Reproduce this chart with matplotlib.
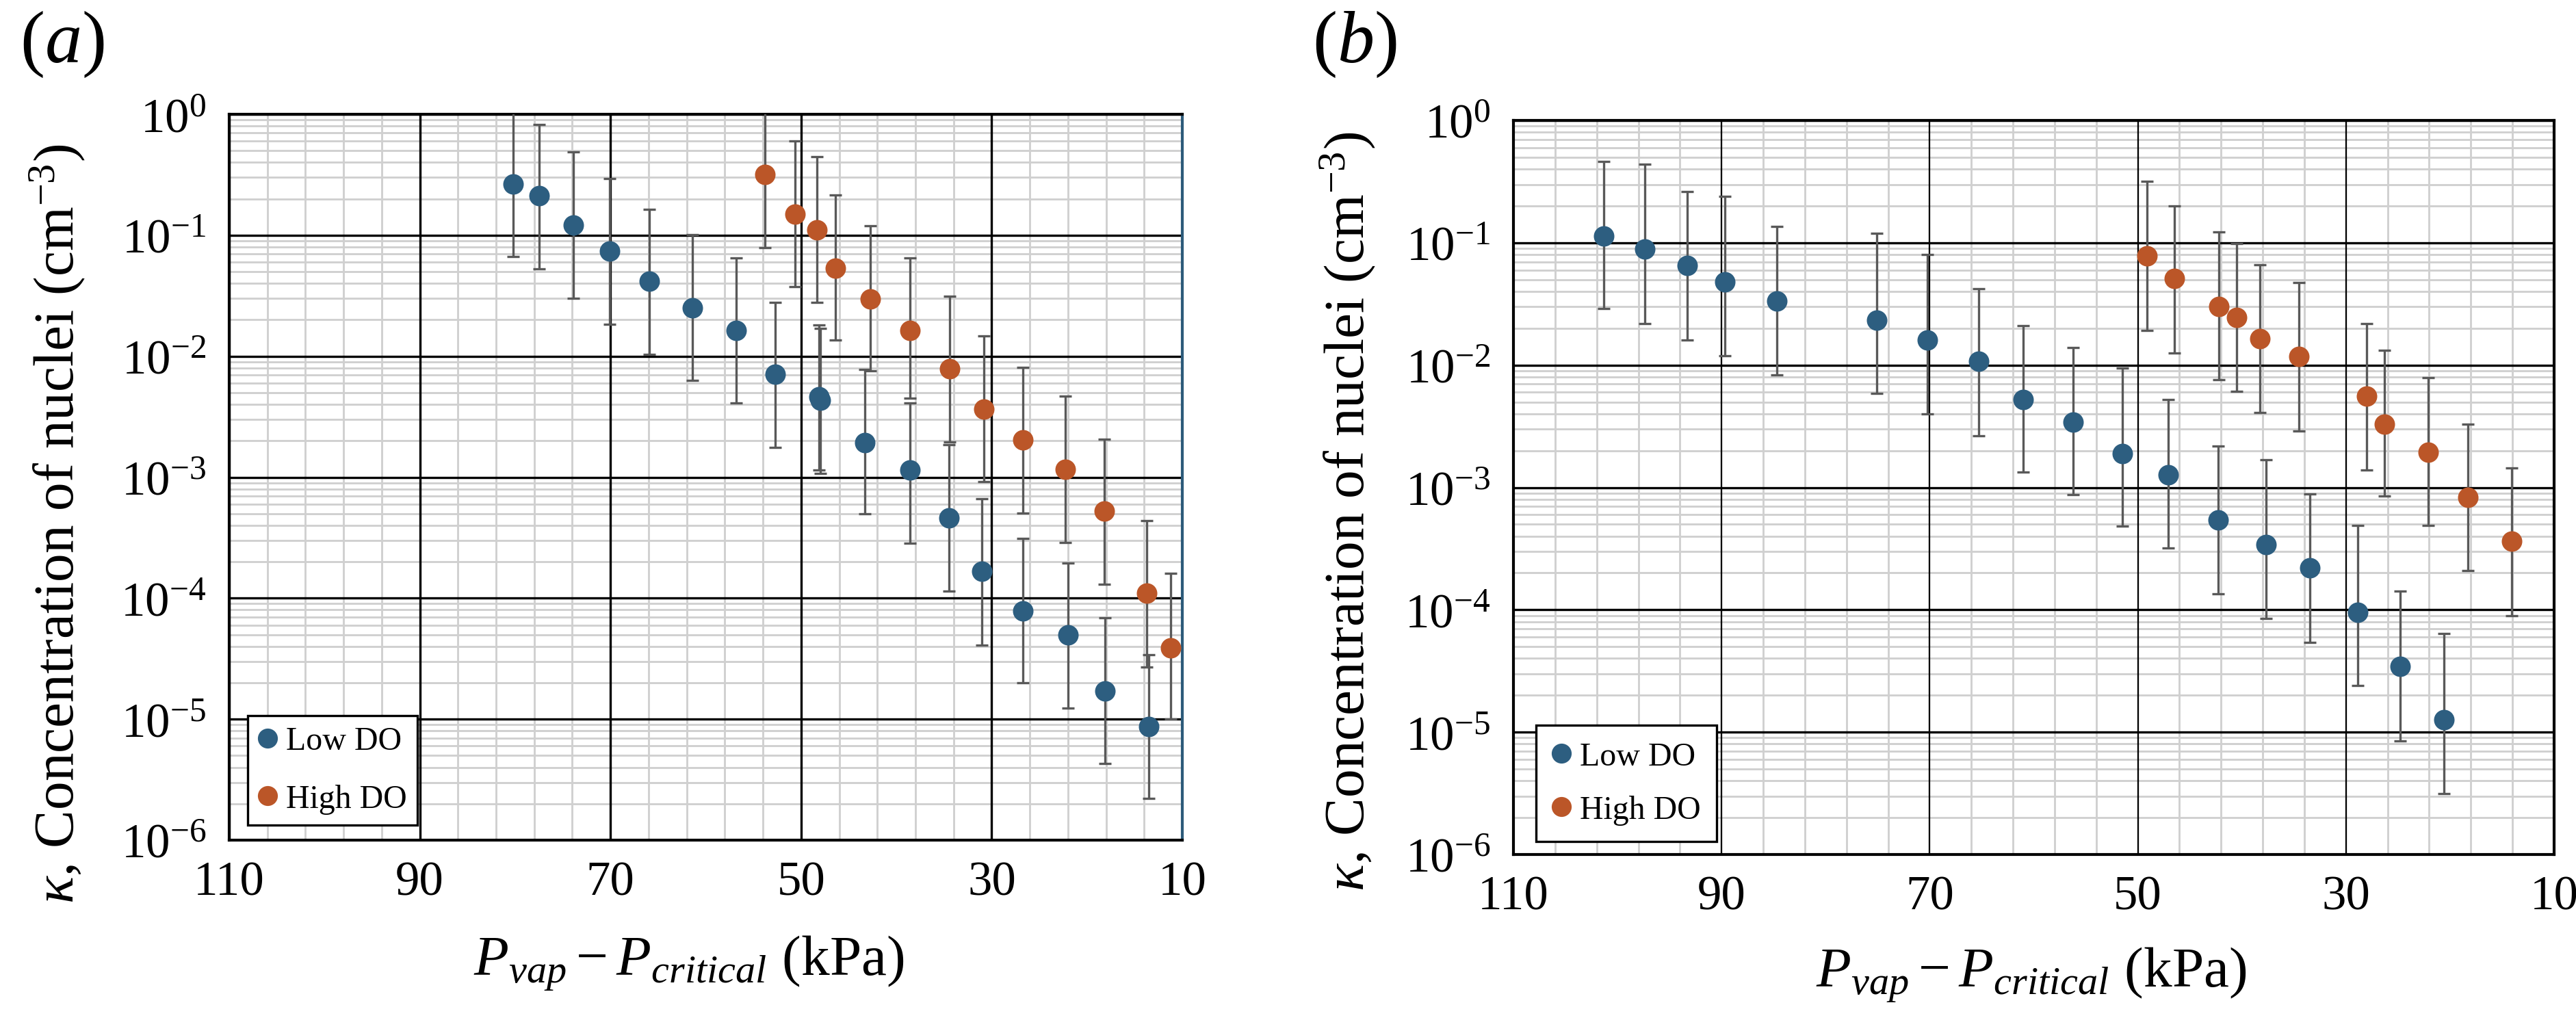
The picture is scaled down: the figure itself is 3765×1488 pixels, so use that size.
import matplotlib
matplotlib.use("Agg")
import matplotlib.pyplot as plt
from matplotlib.lines import Line2D
from matplotlib.ticker import LogLocator, LogFormatterMathtext, MultipleLocator, NullFormatter
import numpy as np

plt.rcParams['font.family'] = ['Liberation Serif', 'DejaVu Serif']
plt.rcParams['mathtext.fontset'] = 'custom'
plt.rcParams['mathtext.rm'] = 'Liberation Serif'
plt.rcParams['mathtext.it'] = 'Liberation Serif:italic'
plt.rcParams['mathtext.bf'] = 'Liberation Serif:bold'

# ---- data ----
# panel (a)
a_low_p = [80.2, 77.5, 73.9, 70.1, 65.9, 61.4, 56.8, 52.7, 48.1, 48.0,
           43.3, 38.6, 34.5, 31.0, 26.7, 22.0, 18.1, 13.5]
a_low_k = [0.266, 0.211, 0.122, 0.074, 0.0416, 0.0250, 0.0164, 0.00706, 0.0046, 0.0043,
           0.00192, 0.00115, 4.6e-4, 1.66e-4, 7.8e-5, 4.96e-5, 1.71e-5, 8.7e-6]
a_low_lo = [0.067, 0.053, 0.030, 0.0184, 0.0104, 0.0063, 0.0041, 0.00177, 0.00115, 0.00107,
            4.96e-4, 2.84e-4, 1.15e-4, 4.1e-5, 2.0e-5, 1.24e-5, 4.3e-6, 2.2e-6]
a_low_hi = [1.06, 0.82, 0.49, 0.295, 0.163, 0.101, 0.065, 0.0279, 0.0182, 0.017,
            0.0078, 0.0041, 0.00186, 6.6e-4, 3.1e-4, 1.96e-4, 6.9e-5, 3.4e-5]

a_high_p = [53.8, 50.6, 48.3, 46.4, 42.7, 38.6, 34.4, 30.8, 26.7, 22.3, 18.2, 13.7, 11.2]
a_high_k = [0.316, 0.150, 0.111, 0.0537, 0.0297, 0.0164, 0.0079, 0.00367, 0.00203,
            0.00116, 5.26e-4, 1.1e-4, 3.9e-5]
a_high_lo = [0.079, 0.0374, 0.0277, 0.0136, 0.0076, 0.0045, 0.00195, 9.2e-4, 5.06e-4,
             2.9e-4, 1.3e-4, 2.7e-5, 1.0e-5]
a_high_hi = [1.26, 0.60, 0.448, 0.216, 0.12, 0.065, 0.0314, 0.0147, 0.0081,
             0.00465, 0.00206, 4.4e-4, 1.6e-4]

# panel (b)
b_low_p = [101.3, 97.4, 93.3, 89.7, 84.7, 75.1, 70.2, 65.3, 61.0, 56.2,
           51.5, 47.1, 42.3, 37.7, 33.5, 28.9, 24.8, 20.6]
b_low_k = [0.114, 0.089, 0.065, 0.048, 0.0336, 0.0234, 0.0161, 0.0108, 0.00524, 0.00343,
           0.00188, 0.00127, 5.45e-4, 3.42e-4, 2.2e-4, 9.55e-5, 3.47e-5, 1.27e-5]
b_low_lo = [0.029, 0.0219, 0.016, 0.012, 0.0083, 0.0059, 0.0040, 0.00264, 0.00133, 8.7e-4,
            4.85e-4, 3.2e-4, 1.35e-4, 8.45e-5, 5.4e-5, 2.4e-5, 8.5e-6, 3.16e-6]
b_low_hi = [0.46, 0.44, 0.261, 0.24, 0.136, 0.12, 0.080, 0.042, 0.021, 0.0139,
            0.0095, 0.0052, 0.00217, 0.00168, 8.8e-4, 4.9e-4, 1.42e-4, 6.4e-5]

b_high_p = [49.1, 46.5, 42.2, 40.5, 38.3, 34.5, 28.0, 26.3, 22.1, 18.3, 14.1]
b_high_k = [0.078, 0.051, 0.030, 0.0245, 0.0164, 0.0117, 0.00557, 0.0033, 0.00194,
            8.3e-4, 3.65e-4]
b_high_lo = [0.0193, 0.0126, 0.0076, 0.0061, 0.0041, 0.0029, 0.00139, 8.5e-4, 4.9e-4,
             2.1e-4, 8.95e-5]
b_high_hi = [0.316, 0.20, 0.122, 0.098, 0.066, 0.047, 0.0219, 0.0133, 0.0079,
             0.0033, 0.00145]

p_ticks = [110, 90, 70, 50, 30, 10]
series_labels = ['Low DO', 'High DO']

LOW_C = '#2d5e80'
HIGH_C = '#bb5628'
ERR_C = '#595959'

W, H = 3765, 1489
fig = plt.figure(figsize=(W / 300, H / 300), dpi=300)


def px_axes(l, t, r, b):
    return fig.add_axes([l / W, 1 - b / H, (r - l) / W, (b - t) / H])


def draw_panel(ax, low, high, vgrid_lw):
    ax.set_yscale('log')
    ax.set_xlim(110, 10)
    ax.set_ylim(1e-6, 1)
    ax.set_xticks(p_ticks)
    ax.set_xticklabels([str(t) for t in p_ticks])
    ax.xaxis.set_minor_locator(MultipleLocator(4, offset=2))
    ax.yaxis.set_major_locator(LogLocator(base=10, numticks=10))
    ax.yaxis.set_major_formatter(LogFormatterMathtext())
    ax.yaxis.set_minor_locator(LogLocator(base=10, subs=np.arange(2, 10), numticks=20))
    ax.yaxis.set_minor_formatter(NullFormatter())

    ax.set_axisbelow(True)
    ax.grid(which='minor', axis='both', color='#d0d0d0', lw=0.7)
    # black major grid drawn above the grey minor grid
    for t in p_ticks:
        ax.axvline(t, color='black', lw=vgrid_lw, zorder=0.8)
    for d in ax.get_yticks():
        if 1e-6 <= d <= 1:
            ax.axhline(d, color='black', lw=0.8, zorder=0.8)

    ax.tick_params(which='both', length=0, labelsize=17)
    ax.tick_params(axis='y', pad=8)
    ax.tick_params(axis='x', pad=7)
    for s in ax.spines.values():
        s.set_linewidth(1.0)
        s.set_color('black')

    for (p, k, lo, hi), c in zip([low, high], [LOW_C, HIGH_C]):
        p = np.array(p); k = np.array(k); lo = np.array(lo); hi = np.array(hi)
        ax.errorbar(p, k, yerr=[k - lo, hi - k], fmt='o', ms=6.2, color=c, mec=c,
                    ecolor=ERR_C, elinewidth=0.8, capsize=2.2, capthick=0.8, zorder=3)


ax_a = px_axes(335, 168, 1728, 1229)
draw_panel(ax_a, (a_low_p, a_low_k, a_low_lo, a_low_hi),
           (a_high_p, a_high_k, a_high_lo, a_high_hi), 0.8)
ax_a.spines['right'].set_color('#2d5b7a')

ax_b = px_axes(2212, 177, 3733, 1250)
draw_panel(ax_b, (b_low_p, b_low_k, b_low_lo, b_low_hi),
           (b_high_p, b_high_k, b_high_lo, b_high_hi), 0.55)

for ax, anchor, bp, ls in [(ax_a, (0.0194, 0.0207), 0.33, 0.85),
                           (ax_b, (0.0217, 0.0177), 0.5, 0.72)]:
    handles = [Line2D([], [], ls='none', marker='o', ms=6.0, color=c, mec=c)
               for c in [LOW_C, HIGH_C]]
    leg = ax.legend(handles, series_labels, loc='lower left', bbox_to_anchor=anchor,
                    borderaxespad=0, fontsize=11.5, frameon=True, fancybox=False,
                    framealpha=1, edgecolor='black', borderpad=bp, labelspacing=ls,
                    handlelength=0.55, handletextpad=0.28)
    leg.get_frame().set_linewidth(0.8)

ylab = r'$\kappa$, Concentration of nuclei (cm$^{-3}$)'
xlab = r'$P_{vap} - P_{critical}$ (kPa)'
fig.text(84 / W, 1 - 766 / H, ylab, rotation=90, ha='center', va='center', fontsize=20)
fig.text(1970 / W, 1 - 748 / H, ylab, rotation=90, ha='center', va='center', fontsize=20)
fig.text(1007 / W, 1 - 1425 / H, xlab, ha='center', va='baseline', fontsize=20)
fig.text(2969 / W, 1 - 1442 / H, xlab, ha='center', va='baseline', fontsize=20)
fig.text(29 / W, 1 - 14 / H, r'($\mathit{a}$)', ha='left', va='top', fontsize=26)
fig.text(1918 / W, 1 - 14 / H, r'($\mathit{b}$)', ha='left', va='top', fontsize=26)

fig.savefig('out.png', dpi=300)
